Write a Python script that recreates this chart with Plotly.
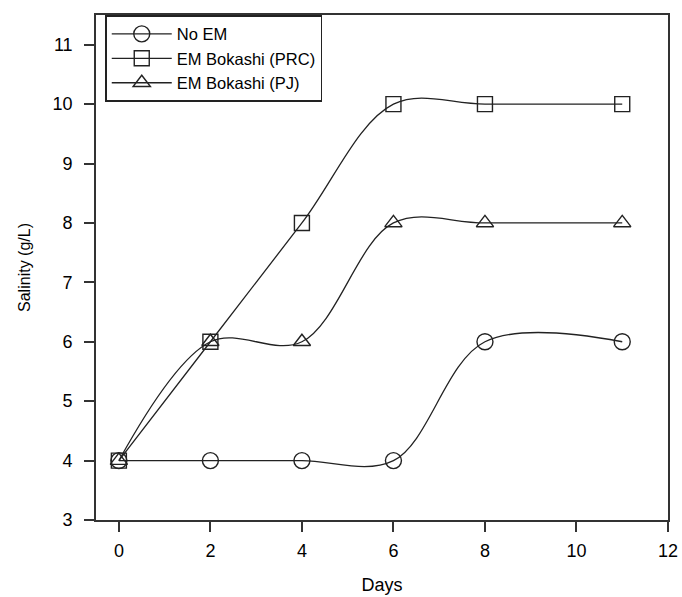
import plotly.graph_objects as go

days = [0, 2, 4, 6, 8, 11]
no_em = [4, 4, 4, 4, 6, 6]
em_prc = [4, 6, 8, 10, 10, 10]
em_pj = [4, 6, 6, 8, 8, 8]

series = [
    ("No EM", no_em, "circle-open", 16),
    ("EM Bokashi (PRC)", em_prc, "square-open", 15),
    ("EM Bokashi (PJ)", em_pj, "triangle-up-open", 15),
]

fig = go.Figure()
for name, vals, sym, size in series:
    fig.add_trace(go.Scatter(
        x=days, y=vals, name=name, mode="lines+markers",
        line=dict(color="#222", width=1.3, shape="spline", smoothing=1.0),
        marker=dict(symbol=sym, size=size, color="#222",
                    line=dict(width=1.4, color="#222")),
    ))

font = "Liberation Sans, Arial, sans-serif"
fig.update_layout(
    width=682, height=597,
    margin=dict(l=96, r=14, t=15, b=77),
    paper_bgcolor="white", plot_bgcolor="white",
    font=dict(family=font, color="#000", size=18),
    showlegend=True,
    legend=dict(x=0.016, y=1.0, xanchor="left", yanchor="top",
                bordercolor="#222", borderwidth=1.6, bgcolor="white",
                font=dict(size=16.5), tracegroupgap=0, itemwidth=60),
    xaxis=dict(range=[-0.5, 12], tickvals=[0, 2, 4, 6, 8, 10, 12],
               ticks="outside", ticklen=10, tickwidth=1.6, tickcolor="#333",
               showline=True, linecolor="#333", linewidth=1.6, mirror=True,
               showgrid=False, zeroline=False, ticklabelstandoff=4,
               automargin=False, tickfont=dict(size=18),
               title=dict(text="Days", font=dict(size=18), standoff=18)),
    yaxis=dict(range=[3, 11.5], tickvals=[3, 4, 5, 6, 7, 8, 9, 10, 11],
               ticks="outside", ticklen=10, tickwidth=1.6, tickcolor="#333",
               showline=True, linecolor="#333", linewidth=1.6, mirror=True,
               showgrid=False, zeroline=False, ticklabelstandoff=8,
               automargin=False, tickfont=dict(size=18),
               title=dict(text="Salinity (g/L)", font=dict(size=16), standoff=18)),
)

fig.write_html("out.html")
